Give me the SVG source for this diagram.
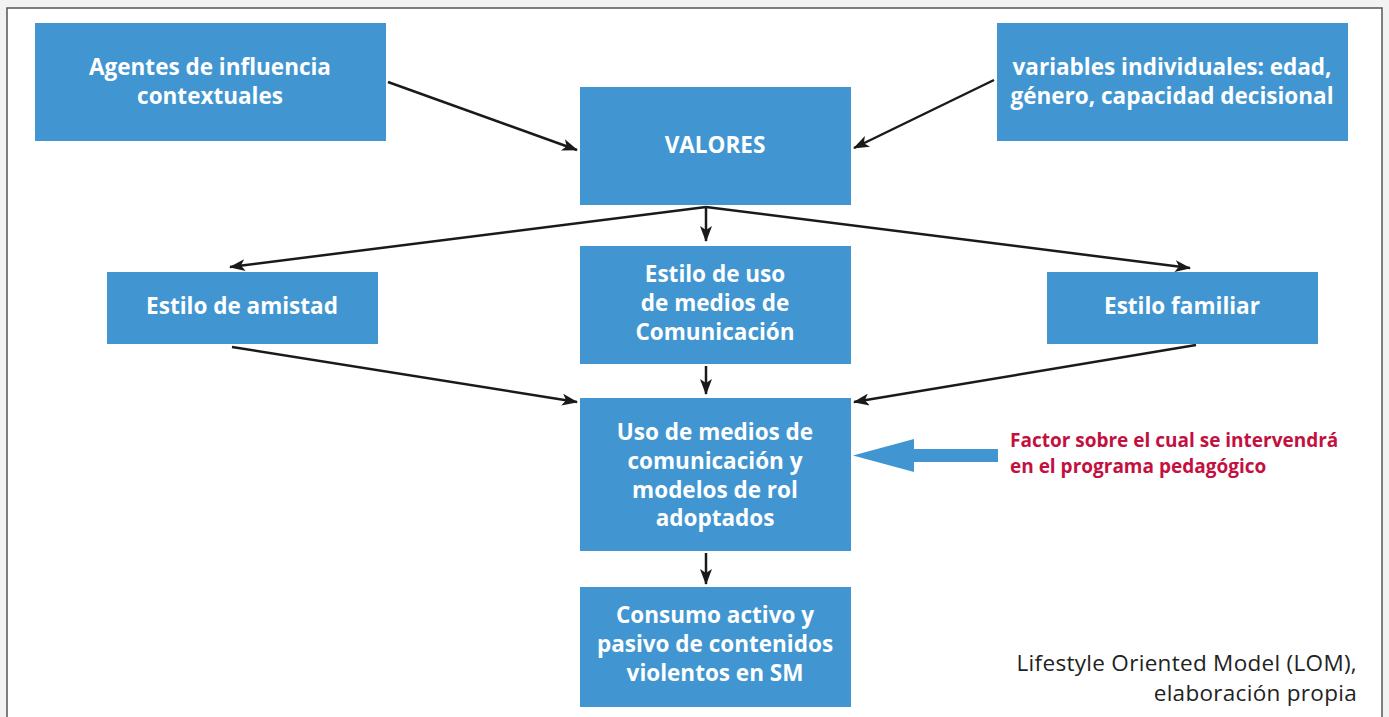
<svg xmlns="http://www.w3.org/2000/svg" width="1389" height="717" viewBox="0 0 1389 717">
<style>
.box{fill:#4196d2}
.t{font-family:"Open Sans","Liberation Sans",sans-serif;font-weight:700;font-size:22.5px;fill:#fff;text-anchor:middle}
.c{stroke:#1a1a1a;stroke-width:2.5;fill:none;marker-end:url(#ah)}
.red{font-family:"Open Sans","Liberation Sans",sans-serif;font-weight:700;font-size:19px;fill:#c3103f}
.cap{font-family:"Open Sans","Liberation Sans",sans-serif;font-size:22.5px;letter-spacing:0.3px;fill:#222;text-anchor:end}
</style>
<defs>
<marker id="ah" viewBox="0 0 16 12" refX="15" refY="6" markerWidth="16" markerHeight="12" markerUnits="userSpaceOnUse" orient="auto">
<path d="M0,0 L16,6 L0,12 L4,6 Z" fill="#1a1a1a"/>
</marker>
</defs>
<rect x="0" y="0" width="1389" height="717" fill="#f2f2f2"/>
<rect x="7" y="8" width="1375" height="720" fill="#fff" stroke="#555" stroke-width="1.5"/>
<g id="connectors">
<line class="c" x1="388" y1="82" x2="577" y2="150"/>
<line class="c" x1="994" y1="80" x2="854" y2="148"/>
<line class="c" x1="706" y1="207" x2="706" y2="241"/>
<line class="c" x1="706" y1="207" x2="230" y2="267"/>
<line class="c" x1="706" y1="207" x2="1190" y2="268"/>
<line class="c" x1="232" y1="347" x2="577" y2="402"/>
<line class="c" x1="1196" y1="345" x2="854" y2="402"/>
<line class="c" x1="706" y1="366" x2="706" y2="394"/>
<line class="c" x1="706" y1="553" x2="706" y2="584"/>
<path d="M998,449 L914,449 L914,439 L853,455.5 L914,472 L914,462 L998,462 Z" fill="#4196d2"/>
</g>
<g id="agentes"><rect class="box" x="35" y="23" width="351" height="118"/>
<text class="t" x="210" y="75">Agentes de influencia</text><text class="t" x="210" y="104">contextuales</text></g>
<g id="variables"><rect class="box" x="997" y="23" width="351" height="118"/>
<text class="t" x="1172" y="75">variables individuales: edad,</text><text class="t" x="1172" y="104">género, capacidad decisional</text></g>
<g id="valores"><rect class="box" x="580" y="87" width="271" height="118"/>
<text class="t" x="715" y="153">VALORES</text></g>
<g id="amistad"><rect class="box" x="107" y="272" width="271" height="72"/>
<text class="t" x="242" y="314">Estilo de amistad</text></g>
<g id="estilouso"><rect class="box" x="580" y="246" width="271" height="118"/>
<text class="t" x="715" y="282">Estilo de uso</text><text class="t" x="715" y="311">de medios de</text><text class="t" x="715" y="340">Comunicación</text></g>
<g id="familiar"><rect class="box" x="1047" y="272" width="271" height="72"/>
<text class="t" x="1182" y="314">Estilo familiar</text></g>
<g id="uso"><rect class="box" x="580" y="398" width="271" height="153"/>
<text class="t" x="715" y="440">Uso de medios de</text><text class="t" x="715" y="469">comunicación y</text><text class="t" x="715" y="498">modelos de rol</text><text class="t" x="715" y="526">adoptados</text></g>
<g id="consumo"><rect class="box" x="580" y="587" width="271" height="120"/>
<text class="t" x="715" y="623">Consumo activo y</text><text class="t" x="715" y="652">pasivo de contenidos</text><text class="t" x="715" y="681">violentos en SM</text></g>
<g id="factor"><text class="red" x="1010" y="447">Factor sobre el cual se intervendrá</text><text class="red" x="1010" y="473">en el programa pedagógico</text></g>
<g id="caption"><text class="cap" x="1357" y="671">Lifestyle Oriented Model (LOM),</text><text class="cap" x="1357" y="701">elaboración propia</text></g>
</svg>
